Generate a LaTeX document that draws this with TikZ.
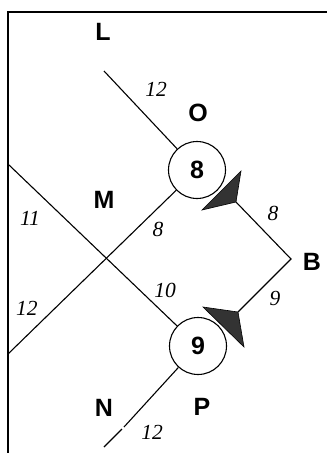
\documentclass[tikz,border=0pt]{standalone}
\usepackage{fontspec}
\setmainfont{Liberation Serif}
\newfontfamily\labfont{Liberation Sans}
\begin{document}
\begin{tikzpicture}[x=1pt,y=-1pt,
  ln/.style={line width=1.1pt},
  frameline/.style={line width=1.4pt},
  junction/.style={circle,draw,line width=1.1pt,minimum size=57pt,inner sep=0pt,font=\labfont\bfseries\fontsize{25}{25}\selectfont},
  letter/.style={font=\labfont\bfseries\fontsize{25}{25}\selectfont,inner sep=0pt},
  num/.style={font=\itshape\fontsize{21.5}{21.5}\selectfont,inner sep=0pt},
  head/.style={fill=black!80,draw=black,line width=0.6pt,line join=miter}]
\useasboundingbox (0,0) rectangle (327,453);
% frame
\coordinate (fbl) at (8,453);
\coordinate (ftl) at (8,12);
\coordinate (ftr) at (327,12);
\draw[frameline] (fbl) -- (ftl) -- (ftr);
% junctions
\node[junction] (c8) at (197,170) {8};
\node[junction] (c9) at (198,346) {9};
% free ends
\coordinate (lend) at (104,71);
\coordinate (lowleft) at (8,354);
\coordinate (upleft) at (9,165);
\coordinate (gapa) at (124,427);
\coordinate (gapb) at (122,429);
\coordinate (nend) at (104,447);
\coordinate (a1tip) at (241,171);
\coordinate (a1notch) at (236,202);
\coordinate (a1base) at (202,210);
\coordinate (bcorner) at (291,259);
\coordinate (a2notch) at (238,312);
\coordinate (a2base) at (203,307);
\coordinate (a2tip) at (244,347);
% connectors
\draw[ln] (lend) -- (c8);
\draw[ln] (c8) -- (lowleft);
\draw[ln] (upleft) -- (c9);
\draw[ln] (c9) -- (gapa);
\draw[ln] (gapb) -- (nend);
\draw[ln] (a1notch) -- (bcorner) -- (a2notch);
% arrowheads
\draw[head] (a1tip) -- (a1notch) -- (a1base) -- cycle;
\draw[head] (a2base) -- (a2notch) -- (a2tip) -- cycle;
% letters
\node[letter] (tL) at (103,32) {L};
\node[letter] (tO) at (198,113) {O};
\node[letter] (tM) at (104,200) {M};
\node[letter] (tB) at (312,262) {B};
\node[letter] (tN) at (104,408) {N};
\node[letter] (tP) at (202,407) {P};
% numbers
\node[num] (n1) at (156,89) {12};
\node[num] (n2) at (30,218) {11};
\node[num] (n3) at (158,229) {8};
\node[num] (n4) at (273,213) {8};
\node[num] (n5) at (165,290) {10};
\node[num] (n6) at (27,308) {12};
\node[num] (n7) at (275,298) {9};
\node[num] (n8) at (152,432) {12};
\end{tikzpicture}
\end{document}
